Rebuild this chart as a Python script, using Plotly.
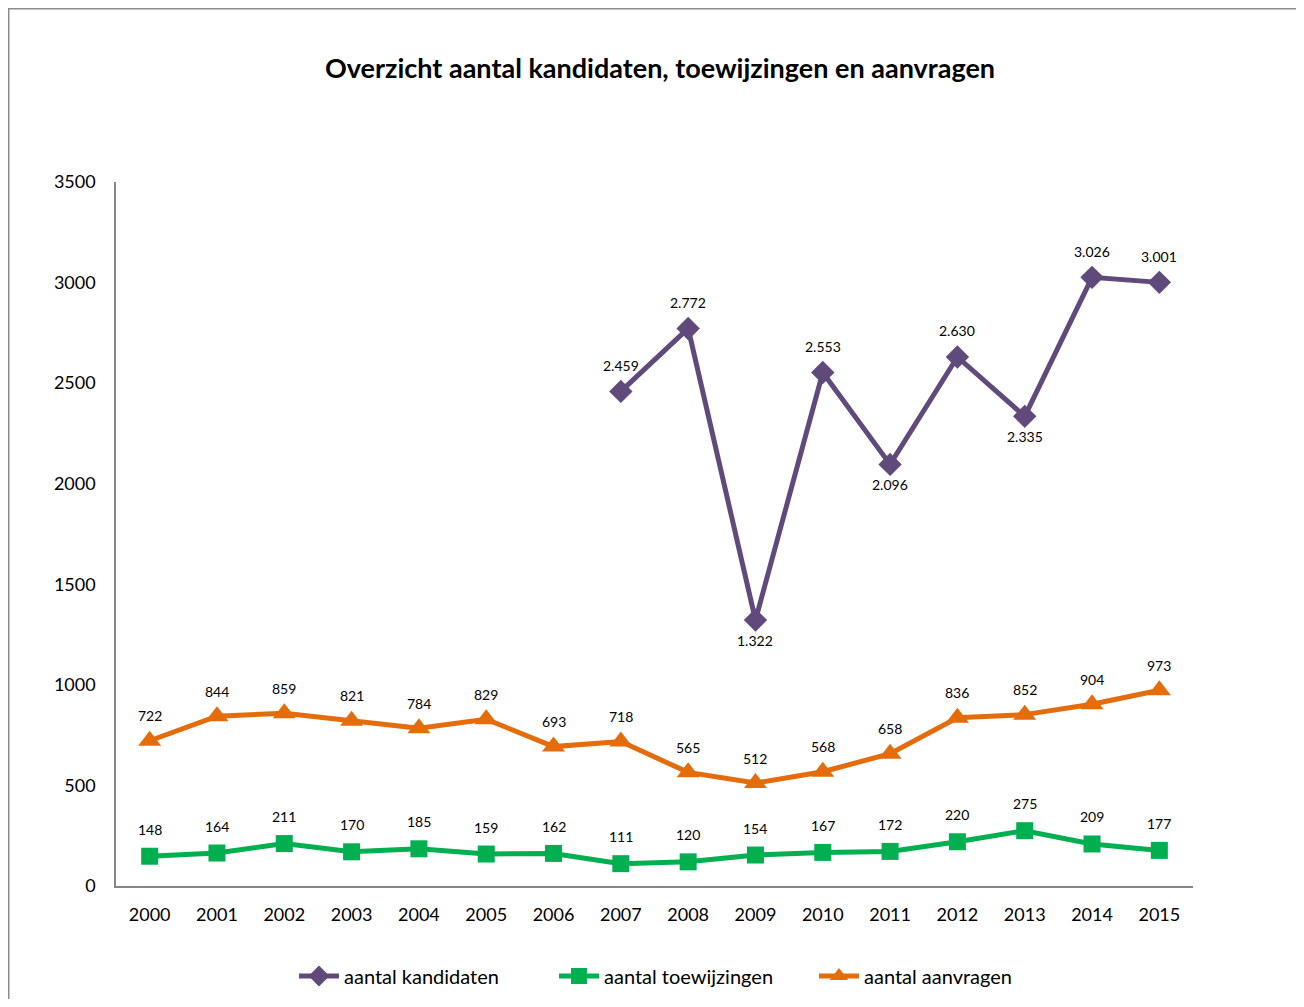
import plotly.graph_objects as go

years = [str(y) for y in range(2000, 2016)]
kandidaten = [None, None, None, None, None, None, None, 2459, 2772, 1322, 2553, 2096, 2630, 2335, 3026, 3001]
toewijzingen = [148, 164, 211, 170, 185, 159, 162, 111, 120, 154, 167, 172, 220, 275, 209, 177]
aanvragen = [722, 844, 859, 821, 784, 829, 693, 718, 565, 512, 568, 658, 836, 852, 904, 973]
# label side for kandidaten: +1 above, -1 below
kand_side = [1, 1, 1, 1, 1, 1, 1, 1, 1, -1, 1, -1, 1, -1, 1, 1]


def fmt(v):
    return f"{v:,}".replace(",", ".")


FONT = "Lato"
PURPLE = "#604A7B"
GREEN = "#00B050"
ORANGE = "#E46C0A"

fig = go.Figure()
fig.add_trace(go.Scatter(
    x=years, y=kandidaten, name="aantal kandidaten", mode="lines+markers",
    line=dict(color=PURPLE, width=5), marker=dict(symbol="diamond", size=18, color=PURPLE),
    connectgaps=False,
))
fig.add_trace(go.Scatter(
    x=years, y=toewijzingen, name="aantal toewijzingen", mode="lines+markers",
    line=dict(color=GREEN, width=5), marker=dict(symbol="square", size=17, color=GREEN),
))
fig.add_trace(go.Scatter(
    x=years, y=aanvragen, name="aantal aanvragen", mode="lines+markers",
    line=dict(color=ORANGE, width=5), marker=dict(symbol="triangle-up", size=20, color=ORANGE),
))

lab_font = dict(size=14, family=FONT, color="#000000")
annotations = []
for i, (v, s) in enumerate(zip(kandidaten, kand_side)):
    if v is None:
        continue
    annotations.append(dict(x=i, y=v, text=fmt(v), showarrow=False,
                            yshift=26 if s > 0 else -20, font=lab_font))
for i, v in enumerate(toewijzingen):
    annotations.append(dict(x=i, y=v, text=fmt(v), showarrow=False, yshift=27, font=lab_font))
for i, v in enumerate(aanvragen):
    annotations.append(dict(x=i, y=v, text=fmt(v), showarrow=False, yshift=25, font=lab_font))

OFF = 8  # page body offset
W, H = 1304 - 2 * OFF, 1007 - 2 * OFF
L, R, T, B = 116 - OFF, 1193 - OFF, 182 - OFF, 886 - OFF
pw, ph = R - L, B - T

fig.update_layout(
    width=W, height=H,
    margin=dict(l=L, r=W - R, t=T, b=H - B),
    paper_bgcolor="white", plot_bgcolor="white",
    font=dict(family=FONT, color="#000000"),
    title=dict(text="<b>Overzicht aantal kandidaten, toewijzingen en aanvragen</b>",
               x=(660 - OFF) / W, xanchor="center", xref="container",
               y=1 - (69 - OFF) / H, yanchor="middle", yref="container",
               font=dict(size=27, family=FONT, color="#000000")),
    showlegend=True,
    legend=dict(orientation="h", xref="container", yref="container",
                x=(684 - OFF) / W, xanchor="center", y=1 - (976 - OFF) / H, yanchor="middle",
                font=dict(size=20, family=FONT), itemwidth=40,
                entrywidth=205, entrywidthmode="pixels"),
    xaxis=dict(type="category", range=[-0.5, len(years) - 0.5], autorange=False,
               showgrid=False, showline=True, linecolor="#868686", linewidth=1.5,
               ticks="", tickfont=dict(size=18, family=FONT), ticklabelstandoff=12, zeroline=False),
    yaxis=dict(range=[0, 3500], dtick=500, showgrid=False, showline=True, linecolor="#868686",
               linewidth=1.5, ticks="", tickfont=dict(size=18, family=FONT), ticklabelstandoff=15,
               zeroline=False),
    annotations=annotations,
    shapes=[dict(type="rect", xref="paper", yref="paper",
                 x0=(0.5 - L) / pw, x1=(1290 - L) / pw,
                 y0=(B - 1015) / ph, y1=(B - 0.5) / ph,
                 line=dict(color="#8C8C8C", width=2), layer="below")],
)

fig.write_html("out.html")
